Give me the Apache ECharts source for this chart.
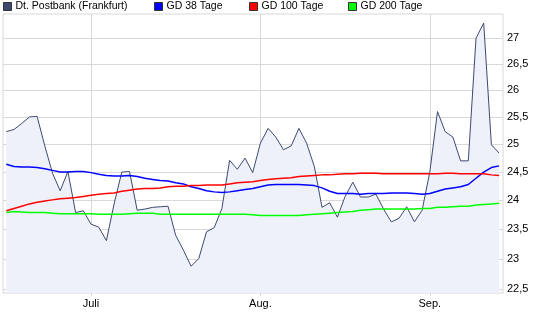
<!DOCTYPE html>
<html>
<head>
<meta charset="utf-8">
<script src="https://cdn.jsdelivr.net/npm/echarts@6/dist/echarts.min.js"></script>
<style>
  html, body { margin: 0; padding: 0; background: #fff; }
  #chart { width: 545px; height: 327px; }
</style>
</head>
<body>
<div id="chart"></div>
<script>
// Trading days (category axis)
const dates = [
  '2010-06-16','2010-06-17','2010-06-18','2010-06-21','2010-06-22','2010-06-23','2010-06-24','2010-06-25','2010-06-28','2010-06-29','2010-06-30',
  '2010-07-01','2010-07-02','2010-07-05','2010-07-06','2010-07-07','2010-07-08','2010-07-09','2010-07-12','2010-07-13','2010-07-14','2010-07-15','2010-07-16','2010-07-19','2010-07-20','2010-07-21','2010-07-22','2010-07-23','2010-07-26','2010-07-27','2010-07-28','2010-07-29','2010-07-30',
  '2010-08-02','2010-08-03','2010-08-04','2010-08-05','2010-08-06','2010-08-09','2010-08-10','2010-08-11','2010-08-12','2010-08-13','2010-08-16','2010-08-17','2010-08-18','2010-08-19','2010-08-20','2010-08-23','2010-08-24','2010-08-25','2010-08-26','2010-08-27','2010-08-30','2010-08-31',
  '2010-09-01','2010-09-02','2010-09-03','2010-09-06','2010-09-07','2010-09-08','2010-09-09','2010-09-10','2010-09-13','2010-09-14'
];

const seriesNames = ['Dt. Postbank (Frankfurt)', 'GD 38 Tage', 'GD 100 Tage', 'GD 200 Tage'];

const price = [25.23,25.27,25.38,25.50,25.51,24.97,24.48,24.17,24.51,23.79,23.82,23.59,23.54,23.31,23.94,24.50,24.51,23.83,23.85,23.88,23.89,23.90,23.40,23.15,22.88,23.01,23.46,23.53,23.86,24.71,24.55,24.75,24.49,25.02,25.29,25.13,24.90,24.97,25.29,25.02,24.60,23.88,23.96,23.71,24.07,24.32,24.06,24.06,24.11,23.85,23.63,23.69,23.89,23.63,23.83,24.50,25.60,25.23,25.13,24.70,24.70,27.00,27.30,24.99,24.84];

const gd38 = [24.64,24.60,24.59,24.59,24.58,24.56,24.53,24.50,24.50,24.51,24.51,24.49,24.46,24.44,24.43,24.43,24.44,24.42,24.39,24.37,24.35,24.34,24.31,24.29,24.24,24.21,24.17,24.15,24.14,24.15,24.17,24.19,24.21,24.24,24.27,24.28,24.28,24.28,24.28,24.27,24.26,24.22,24.16,24.12,24.12,24.12,24.11,24.12,24.12,24.12,24.13,24.13,24.13,24.12,24.11,24.12,24.16,24.20,24.22,24.24,24.28,24.39,24.50,24.58,24.61];

const gd100 = [23.82,23.86,23.90,23.94,23.97,23.99,24.01,24.03,24.04,24.05,24.07,24.09,24.11,24.12,24.13,24.16,24.18,24.20,24.21,24.21,24.22,24.24,24.25,24.25,24.26,24.26,24.27,24.27,24.27,24.29,24.31,24.32,24.33,24.35,24.37,24.38,24.39,24.40,24.42,24.43,24.44,24.45,24.45,24.46,24.47,24.47,24.48,24.48,24.48,24.47,24.47,24.47,24.47,24.47,24.47,24.47,24.47,24.48,24.48,24.47,24.47,24.47,24.47,24.45,24.44];

const gd200 = [23.79,23.81,23.80,23.79,23.79,23.79,23.78,23.77,23.77,23.77,23.77,23.77,23.76,23.76,23.76,23.76,23.77,23.78,23.78,23.78,23.76,23.76,23.76,23.76,23.76,23.76,23.76,23.76,23.76,23.76,23.76,23.76,23.75,23.74,23.74,23.74,23.74,23.74,23.74,23.75,23.76,23.77,23.78,23.79,23.80,23.81,23.83,23.84,23.85,23.85,23.85,23.85,23.85,23.85,23.86,23.86,23.88,23.88,23.89,23.90,23.90,23.92,23.93,23.94,23.95];

// Axis ticks / labels
const yTicks = [22.5, 23, 23.5, 24, 24.5, 25, 25.5, 26, 26.5, 27];
const yTickLabels = ['22,5', '23', '23,5', '24', '24,5', '25', '25,5', '26', '26,5', '27'];
const monthTicks = ['2010-07-01', '2010-08-02', '2010-09-01'];
const monthLabels = ['Juli', 'Aug.', 'Sep.'];

const colors = ['#3d4a70', '#0000ff', '#ff0000', '#00ff00'];
const FONT = 'Liberation Sans, Arial, sans-serif';
const GRID_COLOR = '#d8d8d8';

const isMonthTick = (idx, val) => monthTicks.indexOf(val) >= 0;

const legendLefts = [3, 154, 249, 348];

const chart = echarts.init(document.getElementById('chart'), null, { renderer: 'canvas' });

const option = {
  animation: false,
  backgroundColor: '#fff',
  textStyle: { fontFamily: FONT },
  legend: seriesNames.map((n, i) => ({
    data: [{ name: n, itemStyle: { color: colors[i], borderColor: '#333', borderWidth: 1 } }],
    left: legendLefts[i],
    top: 1,
    padding: 0,
    icon: 'rect',
    itemWidth: 8,
    itemHeight: 8,
    selectedMode: false,
    textStyle: { fontSize: 10.5, color: '#000', fontFamily: FONT, padding: [0, 0, 0, -1] }
  })),
  grid: [
    { left: 3, right: 42, top: 14, bottom: 34, show: true, borderColor: GRID_COLOR, borderWidth: 1, backgroundColor: '#fff' },
    { left: 6.3, right: 45.9, top: 14, bottom: 34 }
  ],
  xAxis: [
    { gridIndex: 0, type: 'value', min: 0, max: 1, show: false },
    {
      gridIndex: 1, type: 'category', boundaryGap: false, data: dates,
      axisLine: { show: false },
      axisTick: { show: true, interval: isMonthTick, length: 3, lineStyle: { color: GRID_COLOR } },
      axisLabel: {
        interval: isMonthTick, color: '#000', fontSize: 11, fontFamily: FONT, margin: 5,
        formatter: (v) => { const k = monthTicks.indexOf(v); return k >= 0 ? monthLabels[k] : ''; }
      },
      splitLine: { show: true, interval: isMonthTick, lineStyle: { color: GRID_COLOR, width: 1 } }
    }
  ],
  yAxis: [
    {
      gridIndex: 0, type: 'log', logBase: 10, min: 22.44, max: 27.48, position: 'right',
      axisLine: { show: false },
      axisTick: { show: false, customValues: yTicks },
      axisLabel: {
        customValues: yTicks, color: '#000', fontSize: 11, fontFamily: FONT, margin: 4,
        formatter: (v) => {
          let best = 0;
          for (let i = 1; i < yTicks.length; i++) if (Math.abs(yTicks[i] - v) < Math.abs(yTicks[best] - v)) best = i;
          return yTickLabels[best];
        }
      },
      splitLine: { show: true, lineStyle: { color: GRID_COLOR, width: 1 } }
    },
    { gridIndex: 1, type: 'log', logBase: 10, min: 22.44, max: 27.48, show: false }
  ],
  series: [
    {
      name: seriesNames[0], type: 'line', xAxisIndex: 1, yAxisIndex: 1, data: price,
      symbol: 'none', lineStyle: { color: colors[0], width: 1 }, itemStyle: { color: colors[0] },
      areaStyle: { color: '#eef1f9', opacity: 1, origin: 'start' }, z: 2
    },
    {
      name: seriesNames[1], type: 'line', xAxisIndex: 1, yAxisIndex: 1, data: gd38,
      symbol: 'none', lineStyle: { color: colors[1], width: 1.5 }, itemStyle: { color: colors[1] }, z: 3
    },
    {
      name: seriesNames[2], type: 'line', xAxisIndex: 1, yAxisIndex: 1, data: gd100,
      symbol: 'none', lineStyle: { color: colors[2], width: 1.5 }, itemStyle: { color: colors[2] }, z: 3
    },
    {
      name: seriesNames[3], type: 'line', xAxisIndex: 1, yAxisIndex: 1, data: gd200,
      symbol: 'none', lineStyle: { color: colors[3], width: 1.5 }, itemStyle: { color: colors[3] }, z: 3
    }
  ]
};

chart.setOption(option);
</script>
</body>
</html>
